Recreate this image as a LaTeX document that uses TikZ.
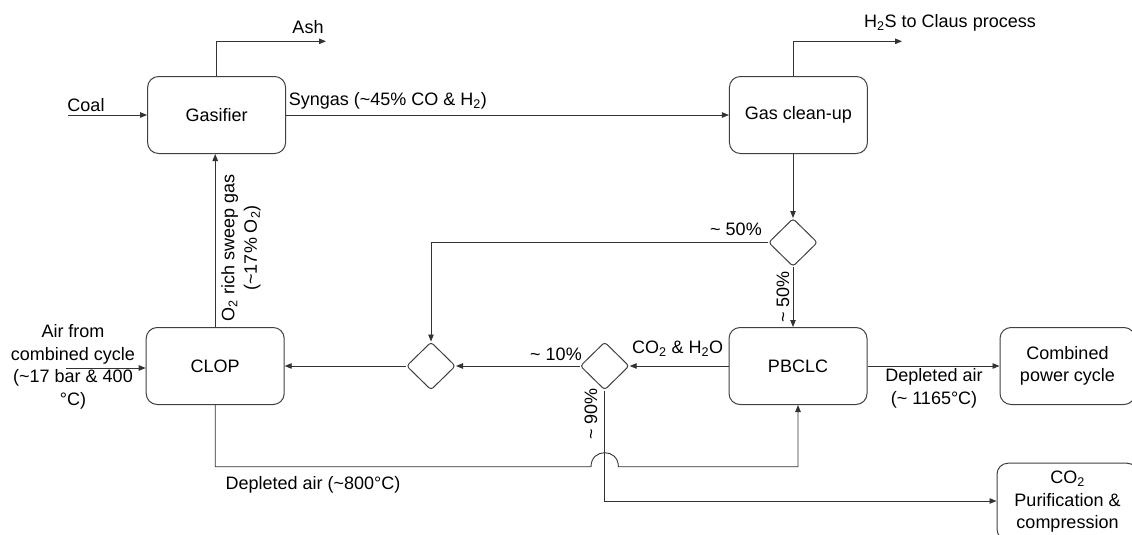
\documentclass[tikz,border=0pt]{standalone}
\usepackage{fontspec}
\setmainfont{Liberation Sans}
\usetikzlibrary{arrows.meta,shapes.geometric}
\begin{document}
\begin{tikzpicture}[x=1pt,y=-1pt,
  every node/.style={font=\fontsize{18}{22.5}\selectfont, inner sep=0pt},
  box/.style={draw=black!75, line width=1pt, rounded corners=11pt, minimum width=138pt, minimum height=77pt, align=center},
  dia/.style={draw=black!75, line width=1pt, diamond, minimum width=49pt, minimum height=48pt, rounded corners=3pt},
  flow/.style={draw=black!80, line width=0.9pt, -{Triangle[length=7pt,width=5.5pt]}},
  plain/.style={draw=black!80, line width=0.9pt},
  lbl/.style={align=center}]
\useasboundingbox (0,0) rectangle (1132,535);

% process boxes
\node[box] (gas) at (216.6,115) {Gasifier};
\node[box] (gcu) at (798.4,115) {Gas clean-up};
\node[box] (clop) at (215.2,366) {CLOP};
\node[box] (pbclc) at (798,366) {PBCLC};
\node[box, minimum width=135pt] (comb) at (1067.5,366) {Combined\\power cycle};
\node[box, minimum width=141pt] (co2) at (1067.5,501.7) {CO\textsubscript{2}\\Purification \&\\compression};

% splitters
\node[dia] (d1) at (793,242.5) {};
\node[dia] (d2) at (431,366) {};
\node[dia] (d3) at (604.7,366) {};

% free ends
\coordinate (coalst) at (68,115);
\coordinate (ashend) at (326,41.3);
\coordinate (h2send) at (902,41.3);
\coordinate (airst) at (66,368);
\coordinate (dl1) at (215.2,466.7);
\coordinate (bumpL) at (591,466.7);
\coordinate (bumpR) at (618.4,466.7);
\coordinate (co2low) at (604.7,501);

% connectors
\draw[flow] (coalst) -- (gas.west);
\draw[flow] (gas.north) |- (ashend);
\draw[flow] (gas.east) -- (gcu.west);
\draw[flow] (gcu.north -| d1.north) |- (h2send);
\draw[flow] (gcu.south -| d1.north) -- (d1.north);
\draw[flow] (d1.west) -| (d2.north);
\draw[flow] (d1.south) -- (pbclc.north -| d1.south);
\draw[flow] (pbclc.west) -- (d3.east);
\draw[flow] (d3.west) -- (d2.east);
\draw[flow] (d2.west) -- (clop.east);
\draw[flow] (airst) -- (clop.west |- airst);
\draw[flow] (clop.north) -- (clop.north |- gas.south);
\draw[flow] (pbclc.east) -- (comb.west);
\draw[flow] (d3.south) -- (co2low) -- (co2.west |- co2low);
\draw[flow] (clop.south) -- (dl1) -- (bumpL)
  .. controls (591,448) and (618.4,448) .. (bumpR) -| (pbclc.south);

% labels
\node (lash) at (308,26.7) {Ash};
\node (lh2s) at (950,23.3) {H\textsubscript{2}S to Claus process};
\node (lcoal) at (86,105) {Coal};
\node[anchor=west] (lsyn) at (288.6,101) {Syngas (\textasciitilde45\% CO \& H\textsubscript{2})};
\node (l50a) at (736,229.3) {\textasciitilde\ 50\%};
\node[rotate=90] (l50b) at (783,297) {\textasciitilde\ 50\%};
\node (l10) at (556,354) {\textasciitilde\ 10\%};
\node (lco2h2o) at (677.6,348.3) {CO\textsubscript{2} \& H\textsubscript{2}O};
\node[rotate=90] (l90) at (591,414) {\textasciitilde\ 90\%};
\node[lbl] (lair) at (73,367) {Air from\\combined cycle\\(\textasciitilde17 bar \& 400\\°C)};
\node[lbl, rotate=90] (lo2) at (241,248) {O\textsubscript{2} rich sweep gas\\(\textasciitilde17\% O\textsubscript{2})};
\node (ldep1) at (313,485) {Depleted air (\textasciitilde800°C)};
\node[lbl] (ldep2) at (934,388.5) {Depleted air\\(\textasciitilde\ 1165°C)};
\end{tikzpicture}
\end{document}
